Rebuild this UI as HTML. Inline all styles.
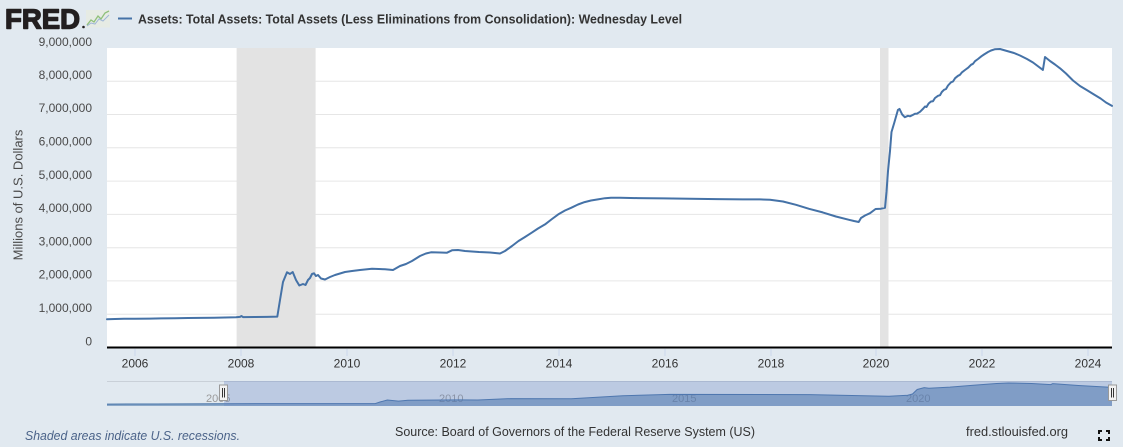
<!DOCTYPE html>
<html>
<head>
<meta charset="utf-8">
<style>
  html, body { margin: 0; padding: 0; background: #e1e9f0; }
  svg { display: block; }
  text { font-family: "Liberation Sans", "DejaVu Sans", sans-serif; }
</style>
</head>
<body>
<svg width="1123" height="447" viewBox="0 0 1123 447" xmlns="http://www.w3.org/2000/svg">
  <rect x="0" y="0" width="1123" height="447" fill="#e1e9f0"/>

  <!-- FRED logo -->
  <text x="5" y="28.5" font-size="28" font-weight="bold" fill="#231f20" stroke="#231f20" stroke-width="1.4" stroke-linejoin="round" textLength="75" lengthAdjust="spacingAndGlyphs">FRED</text>
  <circle cx="83.5" cy="27" r="1.3" fill="#231f20"/>
  <rect x="86" y="10" width="24" height="17.5" fill="#e6ebe4"/>
  <polyline points="87,25 91,20 94,22 98,16 101,19 105,13 109,11" fill="none" stroke="#8fc07a" stroke-width="1.3"/>
  <polyline points="87,26 91,23 95,24 99,19 103,21 109,15" fill="none" stroke="#9fb6d6" stroke-width="1"/>

  <!-- Legend line + title -->
  <line x1="118" y1="18.5" x2="132" y2="18.5" stroke="#4572a7" stroke-width="2"/>
  <text x="138" y="23.3" font-size="13" font-weight="bold" fill="#333" textLength="544" lengthAdjust="spacingAndGlyphs">Assets: Total Assets: Total Assets (Less Eliminations from Consolidation): Wednesday Level</text>

  <!-- Plot area -->
  <rect x="107" y="48" width="1005" height="300" fill="#ffffff"/>

  <!-- gridlines -->
  <g stroke="#e6e6e6" stroke-width="1">
    <line x1="107" y1="81.3" x2="1112" y2="81.3"/>
    <line x1="107" y1="114.5" x2="1112" y2="114.5"/>
    <line x1="107" y1="147.8" x2="1112" y2="147.8"/>
    <line x1="107" y1="181.1" x2="1112" y2="181.1"/>
    <line x1="107" y1="214.4" x2="1112" y2="214.4"/>
    <line x1="107" y1="247.7" x2="1112" y2="247.7"/>
    <line x1="107" y1="280.9" x2="1112" y2="280.9"/>
    <line x1="107" y1="314.2" x2="1112" y2="314.2"/>
  </g>

  <!-- recession bands -->
  <rect x="236.6" y="48" width="79" height="299" fill="#e3e3e3"/>
  <rect x="880" y="48" width="8.5" height="299" fill="#e3e3e3"/>

  <!-- y labels -->
  <g font-size="12" fill="#4a4a4a" text-anchor="end">
    <text x="92" y="46">9,000,000</text>
    <text x="92" y="79">8,000,000</text>
    <text x="92" y="112.2">7,000,000</text>
    <text x="92" y="145.5">6,000,000</text>
    <text x="92" y="178.8">5,000,000</text>
    <text x="92" y="212.1">4,000,000</text>
    <text x="92" y="245.4">3,000,000</text>
    <text x="92" y="278.6">2,000,000</text>
    <text x="92" y="311.9">1,000,000</text>
    <text x="92" y="345.3">0</text>
  </g>
  <text transform="translate(22.5,195) rotate(-90)" font-size="13" fill="#4a4a4a" text-anchor="middle">Millions of U.S. Dollars</text>

  <!-- main series -->
  <polyline fill="none" stroke="#4572a7" stroke-width="2" stroke-linejoin="round" stroke-linecap="round" points="
    107,319.2 115,319.0 124,318.8 135,318.8 150,318.6 161,318.4 175,318.3 188,318.0 200,317.9 214,317.7 225,317.5 236,317.3 240,316.9 241.5,316.0 243,317.1 255,317.0 267,316.9 277.3,316.6
    280,300 283,282 287,272.3 290,274 292.7,272 296,280 299.3,285.5 303,284 305.5,285 308,280 310,278 312,274 314,273.3 316,276 318,275 321,278.5 325,279.5 330,277 335,275 340,273.5 345,272 352,271 360,270 372,268.8 385,269.2 393,270
    400,266 406,264 412,261 420,256 425.9,253.5 431,252.3 440,252.5 447,252.7 452,250.3 458,250.0 465,251 479,252 490,252.5 500,253.5 505,251 512,246 518.5,241 525,237 531.7,232.7 538,228.5 545,224.4 552,219 558.2,214.4 565,210.5 571.4,207.7 578,204.5 584.6,202.1 591,200.5 597.9,199.4 605,198.2 611,197.7 620,197.8 637.6,198.1 650,198.2 664,198.4 690,198.7 717,199.1 743,199.4 760,199.4 770,199.7
    783,201.5 796,204.8 809,208.8 822.7,212.4 835.9,216.5 849,219.8 854,221 858.7,222 861,218 865,215.5 870,213.2 875.6,209 881,208.7 885,207.8
    886.5,192 888,171 890,151 891.5,132 894.2,123 897.9,110 899.5,108.9 902.2,114.5 904.8,117.2
    908,115.8 910,116.3 912.7,115.0 915,113.8 917,113.6 920,111.8 923.3,108.5 925,106.5 926.5,107 928.6,103.5 931,101.5 933,101.2 935,98 938,95.8 940,95.2 941.8,92 944,89.8 946,89 948,85.5 951,82.3 953,81.5 955.1,78.2 958,75.8 960,74.8 962,72.3 965,70 968.3,67.6 971,64.8 973,63.8 975,61.2 978,59 981.5,56.2 984,54.5 988,52 991,50.5 994.7,49.3
    1000,49 1007,51 1014,53 1020,55.5 1027,59 1033,62.5 1042.9,69.9 1045,57 1050,61 1055,64.5 1060,68.3 1066,73.5 1073,80.5 1080,86 1086.7,90 1094,94.5 1100.6,98.5 1106,102.5 1112,105.9"/>

  <!-- x axis -->
  <rect x="107" y="346.5" width="1005" height="2" fill="#000"/>
  <g stroke="#ccd6eb" stroke-width="1">
    <line x1="135" y1="349" x2="135" y2="356"/>
    <line x1="241" y1="349" x2="241" y2="356"/>
    <line x1="347" y1="349" x2="347" y2="356"/>
    <line x1="453" y1="349" x2="453" y2="356"/>
    <line x1="559" y1="349" x2="559" y2="356"/>
    <line x1="665" y1="349" x2="665" y2="356"/>
    <line x1="771" y1="349" x2="771" y2="356"/>
    <line x1="876" y1="349" x2="876" y2="356"/>
    <line x1="982" y1="349" x2="982" y2="356"/>
    <line x1="1088" y1="349" x2="1088" y2="356"/>
  </g>
  <g font-size="12" fill="#333" text-anchor="middle">
    <text x="135" y="367.5">2006</text>
    <text x="241" y="367.5">2008</text>
    <text x="347" y="367.5">2010</text>
    <text x="453" y="367.5">2012</text>
    <text x="559" y="367.5">2014</text>
    <text x="665" y="367.5">2016</text>
    <text x="771" y="367.5">2018</text>
    <text x="876" y="367.5">2020</text>
    <text x="982" y="367.5">2022</text>
    <text x="1088" y="367.5">2024</text>
  </g>

  <!-- navigator -->
  <line x1="107" y1="381.5" x2="1112" y2="381.5" stroke="#c9d0d8" stroke-width="1"/>
  <g font-size="11" fill="#9a9a9a">
    <text x="206" y="402">2005</text>
    <text x="439" y="402">2010</text>
    <text x="672" y="402">2015</text>
    <text x="906" y="402">2020</text>
  </g>
  <path fill="rgba(69,114,167,0.55)" d="M107,404.1 L155.6,404.0 L224.3,403.7 L337.8,403.6 L375.2,403.6 L380,402 L387.3,400.0 L398.5,401.1 L407.9,400.3 L459.3,399.9 L477.9,400.0 L510.6,398.6 L571.4,398.7 L622.8,395.7 L669.5,394.4 L809.7,394.6 L888.2,396.3 L907.8,395.2 L912.5,394.0 L917.2,389.5 L924.2,387.6 L928.9,388.2 L949.9,387.1 L973.3,385.2 L996.6,383.5 L1008.3,383.0 L1031.7,383.5 L1050.8,384.6 L1052.7,383.6 L1078.4,385.5 L1112,387.4 L1112,406 L107,406 Z"/>
  <polyline fill="none" stroke="#4572a7" stroke-width="1" points="107,404.1 155.6,404.0 224.3,403.7 337.8,403.6 375.2,403.6 380,402 387.3,400.0 398.5,401.1 407.9,400.3 459.3,399.9 477.9,400.0 510.6,398.6 571.4,398.7 622.8,395.7 669.5,394.4 809.7,394.6 888.2,396.3 907.8,395.2 912.5,394.0 917.2,389.5 924.2,387.6 928.9,388.2 949.9,387.1 973.3,385.2 996.6,383.5 1008.3,383.0 1031.7,383.5 1050.8,384.6 1052.7,383.6 1078.4,385.5 1112,387.4"/>
  <rect x="224" y="381" width="888" height="25" fill="rgba(102,133,194,0.3)"/>

  <!-- handles -->
  <g>
    <rect x="219.5" y="385" width="8" height="15.5" fill="#f2f2f2" stroke="#999" stroke-width="1"/>
    <line x1="222.5" y1="388" x2="222.5" y2="397.5" stroke="#333" stroke-width="1"/>
    <line x1="224.5" y1="388" x2="224.5" y2="397.5" stroke="#333" stroke-width="1"/>
    <rect x="1108.5" y="385" width="8" height="15.5" fill="#f2f2f2" stroke="#999" stroke-width="1"/>
    <line x1="1111.5" y1="388" x2="1111.5" y2="397.5" stroke="#333" stroke-width="1"/>
    <line x1="1113.5" y1="388" x2="1113.5" y2="397.5" stroke="#333" stroke-width="1"/>
  </g>

  <!-- footer -->
  <text x="25" y="440" font-size="13" font-style="italic" fill="#4b6389" textLength="215" lengthAdjust="spacingAndGlyphs">Shaded areas indicate U.S. recessions.</text>
  <text x="395" y="436" font-size="13" fill="#333" textLength="360" lengthAdjust="spacingAndGlyphs">Source: Board of Governors of the Federal Reserve System (US)</text>
  <text x="966" y="436" font-size="13" fill="#333" textLength="102" lengthAdjust="spacingAndGlyphs">fred.stlouisfed.org</text>

  <!-- fullscreen icon -->
  <g fill="none" stroke="#111" stroke-width="2">
    <polyline points="1099,434 1099,431 1102,431"/>
    <polyline points="1106,431 1109,431 1109,434"/>
    <polyline points="1099,437 1099,440 1102,440"/>
    <polyline points="1106,440 1109,440 1109,437"/>
  </g>
</svg>
</body>
</html>
